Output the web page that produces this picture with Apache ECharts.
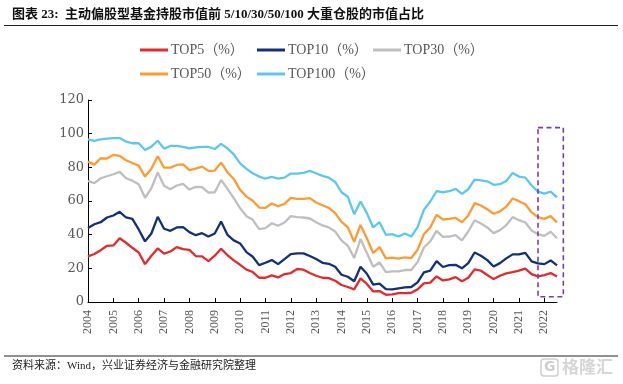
<!DOCTYPE html>
<html>
<head>
<meta charset="utf-8">
<script src="https://cdn.jsdelivr.net/npm/echarts@6/dist/echarts.min.js"></script>
<style>
html,body{margin:0;padding:0;background:#fff;}
#chart{width:623px;height:384px;}
</style>
</head>
<body>
<div id="chart"></div>
<script>
// ---- data ----
const years = ['2004','2005','2006','2007','2008','2009','2010','2011','2012','2013','2014','2015','2016','2017','2018','2019','2020','2021','2022'];
const quarterNames = ['Q1','Q2','Q3','Q4'];
const yTicks = [0, 20, 40, 60, 80, 100, 120];
const seriesNames = ['TOP5（%）','TOP10（%）','TOP30（%）','TOP50（%）','TOP100（%）'];

const top5 = [27.1,28.5,30.8,33.4,33.6,37.9,35.2,32.2,29.4,22.5,27.5,31.8,28.7,30.0,32.6,31.4,31.0,27.3,27.1,24.3,27.5,31.6,27.9,24.7,22.1,19.2,17.8,14.4,14.4,15.8,14.6,16.6,17.2,19.6,19.2,17.2,15.6,14.4,14.2,12.6,10.1,8.9,7.5,14.0,10.7,6.3,6.5,4.3,4.5,5.3,5.3,5.5,7.5,11.1,11.5,15.2,12.8,13.4,14.8,12.3,14.4,19.4,18.6,16.0,13.6,15.6,17.0,17.8,18.6,19.8,16.6,15.2,16.0,17.2,15.2];
const top10 = [43.9,46.2,47.4,50.2,51.4,53.6,50.2,49.4,43.1,36.0,40.7,50.6,43.5,42.3,44.3,44.5,41.5,39.7,40.9,38.9,40.7,47.8,39.9,36.6,34.8,29.6,26.9,21.9,23.3,24.9,22.5,25.5,28.5,28.9,28.9,27.3,25.5,23.3,22.7,20.9,16.2,15.0,12.3,20.9,16.8,10.3,10.9,7.7,7.5,8.1,8.7,8.9,11.7,17.6,18.6,24.3,20.8,21.9,22.1,20.0,23.1,29.4,27.5,24.9,21.1,23.1,25.9,28.3,28.3,29.2,24.1,22.9,22.5,24.7,21.7];
const top30 = [71.9,70.6,73.5,74.7,75.9,77.3,73.5,72.1,70.0,61.9,67.6,76.9,69.0,67.0,69.2,70.2,66.8,68.4,68.2,65.0,65.2,72.5,67.2,61.7,55.7,51.0,48.8,43.3,43.9,46.8,45.3,47.2,51.0,50.4,50.2,49.6,47.4,45.5,44.3,41.9,36.6,33.4,26.1,37.4,29.1,20.9,23.5,17.8,18.2,18.2,19.0,19.0,23.7,32.4,36.0,42.3,38.7,38.9,39.7,36.6,41.9,48.6,46.6,44.3,40.9,42.7,45.7,50.4,48.6,47.2,42.5,40.3,39.3,41.7,37.9];
const top50 = [83.4,81.6,85.4,85.2,87.4,86.8,84.2,82.6,81.0,74.5,79.1,86.6,79.8,79.8,81.4,81.8,78.3,79.2,80.4,77.9,78.1,82.8,77.1,73.1,66.6,62.6,60.1,56.1,55.9,58.5,56.9,58.3,61.9,61.3,61.3,61.7,59.1,57.5,55.9,52.8,47.6,44.3,35.8,45.8,37.9,29.1,32.6,25.9,26.3,25.7,26.5,26.1,31.0,40.3,44.3,51.8,49.0,49.4,50.0,47.4,51.4,58.7,57.3,55.1,52.4,53.8,56.7,61.5,59.9,58.1,53.2,50.4,49.4,51.0,47.2];
const top100 = [96.6,95.7,96.6,97.0,97.4,97.4,95.3,94.3,94.3,90.3,92.3,95.8,91.1,92.7,92.7,92.1,91.3,91.9,92.1,92.1,90.9,93.9,91.3,87.7,82.4,79.1,76.5,74.5,73.3,74.3,73.3,73.9,76.3,76.3,76.7,77.9,76.5,74.9,73.9,71.3,65.2,62.5,52.2,59.7,52.8,44.3,47.4,39.9,40.3,38.9,40.7,38.9,44.5,54.7,59.7,65.8,65.2,65.8,67.2,64.2,67.0,72.7,72.3,71.7,69.6,70.0,71.9,76.7,74.5,73.9,69.2,65.6,64.4,65.6,62.1];

// highlighted box (category index range, value range)
const boxX = [71.3, 74.9];
const boxY = [3.1, 103.6];

// ---- build ----
const categories = [];
years.forEach(y => quarterNames.forEach(q => categories.push(y + q)));
categories.length = top5.length;

const colors = ['#E52A2E', '#13307F', '#BFBFBF', '#FF9B33', '#5CC8F2'];
const seriesData = [top5, top10, top30, top50, top100];

const serifH = "'DejaVu Serif', 'Noto Sans CJK SC', serif";
const serif = "'Liberation Serif', 'Noto Sans CJK SC', serif";

const legendPos = [[140, 43], [257, 43], [373, 43], [140, 67], [257, 67]];
const legends = seriesNames.map((n, i) => ({
  data: [n],
  left: legendPos[i][0],
  top: legendPos[i][1],
  icon: 'rect',
  itemWidth: 28,
  itemHeight: 3,
  itemGap: 0,
  padding: 0,
  textStyle: { fontFamily: serif, fontSize: 14, color: '#595959', padding: [0, 0, 0, -2] }
}));

const chart = echarts.init(document.getElementById('chart'), null, { renderer: 'canvas' });
chart.setOption({
  animation: false,
  backgroundColor: '#fff',
  color: colors,
  legend: legends,
  grid: { left: 88, right: 66, top: 100, bottom: 82, containLabel: false },
  xAxis: {
    type: 'category',
    data: categories,
    boundaryGap: false,
    axisLine: { lineStyle: { color: '#000', width: 1 } },
    axisTick: { inside: true, length: 4, lineStyle: { color: '#000' }, interval: (i) => i % 4 === 0 },
    axisLabel: {
      interval: (i) => i % 4 === 0,
      rotate: 90,
      margin: 8,
      formatter: (v) => v.slice(0, 4),
      fontFamily: serif,
      fontSize: 12,
      color: '#595959'
    },
    splitLine: { show: false }
  },
  yAxis: {
    type: 'value',
    min: yTicks[0],
    max: yTicks[yTicks.length - 1],
    interval: 20,
    axisLine: { show: true, lineStyle: { color: '#000', width: 1 } },
    axisTick: { show: true, inside: true, length: 4, lineStyle: { color: '#000' } },
    axisLabel: { margin: 4, fontFamily: serifH, fontSize: 13, color: '#595959' },
    splitLine: { show: false }
  },
  series: seriesNames.map((n, i) => ({
    name: n,
    type: 'line',
    data: seriesData[i],
    showSymbol: false,
    symbol: 'none',
    lineStyle: { width: 2.3, color: colors[i] },
    itemStyle: { color: colors[i] },
    z: 2 + i
  }))
});

const p1 = chart.convertToPixel({ gridIndex: 0 }, [boxX[0], boxY[1]]);
const p2 = chart.convertToPixel({ gridIndex: 0 }, [boxX[1], boxY[0]]);

chart.setOption({
  graphic: [
    { type: 'text', left: 12, top: 8, style: { text: '图表 23:  主动偏股型基金持股市值前 5/10/30/50/100 大重仓股的市值占比', font: "bold 13px 'Liberation Serif', 'Noto Sans CJK SC'", fill: '#111' } },
    { type: 'line', shape: { x1: 4, y1: 25.5, x2: 618, y2: 25.5 }, style: { stroke: '#222', lineWidth: 1 } },
    { type: 'line', shape: { x1: 4, y1: 356, x2: 618, y2: 356 }, style: { stroke: '#222', lineWidth: 1 } },
    { type: 'text', left: 12, top: 361, style: { text: '资料来源：Wind，兴业证券经济与金融研究院整理', font: "11px 'Liberation Serif', 'Noto Sans CJK SC'", fill: '#222' } },
    { type: 'rect', shape: { x: 541, y: 359, width: 17, height: 17, r: 3 }, style: { fill: 'none', stroke: '#cfcfcf', lineWidth: 1.5 } },
    { type: 'text', left: 544, top: 360, style: { text: 'G', font: "bold 14px 'DejaVu Sans'", fill: '#cfcfcf' } },
    { type: 'text', left: 562, top: 358, style: { text: '格隆汇', font: "bold 17px 'Noto Sans CJK SC'", fill: '#d6d6d6' } },
    { type: 'rect', shape: { x: p1[0], y: p1[1], width: p2[0] - p1[0], height: p2[1] - p1[1] }, style: { fill: 'none', stroke: '#7A3DB0', lineWidth: 1.6, lineDash: [5, 3.5] }, z: 10 }
  ]
});
</script>
</body>
</html>
